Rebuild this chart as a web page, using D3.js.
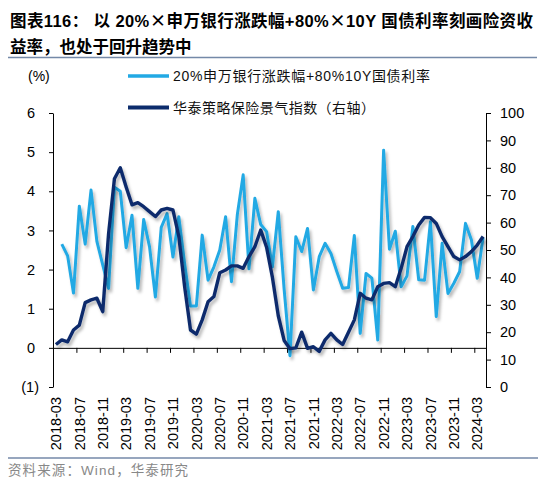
<!DOCTYPE html>
<html><head><meta charset="utf-8">
<script src="https://cdn.jsdelivr.net/npm/d3@7/dist/d3.min.js"></script>
<style>body{margin:0;background:#fff} svg{display:block}</style>
</head><body><svg id="c" width="550" height="486"></svg>
<script>
// ---------- data ----------
const months = [
 "2018-03","2018-04","2018-05","2018-06","2018-07","2018-08","2018-09","2018-10","2018-11","2018-12",
 "2019-01","2019-02","2019-03","2019-04","2019-05","2019-06","2019-07","2019-08","2019-09","2019-10","2019-11","2019-12",
 "2020-01","2020-02","2020-03","2020-04","2020-05","2020-06","2020-07","2020-08","2020-09","2020-10","2020-11","2020-12",
 "2021-01","2021-02","2021-03","2021-04","2021-05","2021-06","2021-07","2021-08","2021-09","2021-10","2021-11","2021-12",
 "2022-01","2022-02","2022-03","2022-04","2022-05","2022-06","2022-07","2022-08","2022-09","2022-10","2022-11","2022-12",
 "2023-01","2023-02","2023-03","2023-04","2023-05","2023-06","2023-07","2023-08","2023-09","2023-10","2023-11","2023-12",
 "2024-01","2024-02","2024-03","2024-04"];
// 20% 申万银行涨跌幅 + 80% 10Y 国债利率 (%), left axis
const rateValues = [
 null,2.65,2.35,1.40,3.62,2.65,4.03,2.72,2.12,1.52,
 4.10,4.00,2.56,3.39,1.52,3.28,2.58,1.30,3.08,3.43,2.32,3.35,
 2.15,1.07,1.07,2.88,1.73,2.07,2.50,3.35,1.69,3.40,4.42,2.02,
 3.82,3.15,2.97,2.07,3.48,1.50,-0.20,2.84,2.46,3.05,1.48,2.33,
 2.67,2.41,1.95,1.52,1.54,2.87,0.37,1.90,1.78,0.20,5.05,2.52,
 2.98,1.56,1.84,3.10,1.74,1.73,3.22,0.80,2.67,1.39,1.65,1.95,
 3.18,2.76,1.78,2.82];
// 华泰策略保险景气指数, right axis
const indexValues = [
 15.5,17.2,16.5,20.8,22.6,30.8,31.8,32.4,27.5,56.0,
 76.0,80.0,73.0,66.5,67.3,65.8,64.0,62.2,64.6,65.2,64.6,55.0,
 36.6,20.8,19.3,24.5,31.1,33.0,41.7,42.7,44.2,44.2,43.3,47.6,
 51.2,57.3,51.0,40.0,26.0,17.0,14.0,14.3,20.0,14.1,14.7,13.0,
 17.2,19.6,17.2,15.5,20.0,24.5,34.2,32.4,31.8,36.6,37.8,38.1,
 36.6,43.3,51.2,54.9,59.1,61.9,61.8,59.7,54.9,51.2,47.6,46.4,
 47.6,49.4,51.8,54.9];
const leftTicks = [-1,0,1,2,3,4,5,6];
const rightTicks = [0,10,20,30,40,50,60,70,80,90,100];
const xTickLabels = ["2018-03","2018-07","2018-11","2019-03","2019-07","2019-11","2020-03","2020-07","2020-11",
 "2021-03","2021-07","2021-11","2022-03","2022-07","2022-11","2023-03","2023-07","2023-11","2024-03"];
const seriesNames = ["20%申万银行涨跌幅+80%10Y国债利率","华泰策略保险景气指数（右轴）"];
const titleLine1Parts = ["图表116：  以 20%","×","申万银行涨跌幅+80%","×","10Y 国债利率刻画险资收"];
const titleLine2 = "益率，也处于回升趋势中";
const sourceText = "资料来源：Wind，华泰研究";

// ---------- drawing ----------
const FONT = "'Liberation Sans', Arial, 'Noto Sans CJK SC', sans-serif";
const CJK = "'Noto Sans CJK SC', sans-serif";
const LIGHT = "#22a9e4", DARK = "#0c2c6c";
const svg = d3.select("#c").style("font-family", FONT);

const defs = svg.append("defs");
const flt = defs.append("filter").attr("id","sh").attr("x","-5%").attr("y","-10%").attr("width","115%").attr("height","130%");
flt.append("feDropShadow").attr("dx",2).attr("dy",3).attr("stdDeviation",1.6)
   .attr("flood-color","#000").attr("flood-opacity",0.28);

const x = d3.scaleBand().domain(months).range([53,486]).padding(0);
const xb = d3.scaleLinear().domain([0, months.length]).range([53,486]);
const yL = d3.scaleLinear().domain([-1,6]).range([387,113]);
const yR = d3.scaleLinear().domain([0,100]).range([387,113]);
const cx = i => x(months[i]) + x.bandwidth()/2;

// title
const t1 = svg.append("text").attr("x",10).attr("y",26.5).attr("font-size",16.5).attr("font-weight","bold")
   .attr("textLength",523).attr("lengthAdjust","spacing").attr("fill","#000");
titleLine1Parts.forEach(p => {
  const ts = t1.append("tspan").text(p);
  if (p === "×") ts.attr("font-family", CJK);
});
svg.append("text").attr("x",10).attr("y",52.5).attr("font-size",16.5).attr("font-weight","bold")
   .attr("fill","#000").text(titleLine2);
svg.append("line").attr("x1",8).attr("x2",537).attr("y1",57.5).attr("y2",57.5)
   .attr("stroke","#7489a8").attr("stroke-width",1.6);

// unit
svg.append("text").attr("x",28).attr("y",81).attr("font-size",14).attr("fill","#000").text("(%)");

// legend
const leg = [{y:76, c:LIGHT, w:3.5, t:seriesNames[0], len:257},{y:107.5, c:DARK, w:4, t:seriesNames[1], len:202}];
leg.forEach(l=>{
  svg.append("line").attr("x1",128).attr("x2",169).attr("y1",l.y).attr("y2",l.y)
     .attr("stroke",l.c).attr("stroke-width",l.w);
  svg.append("text").attr("x",173).attr("y",l.y+5).attr("font-size",14)
     .attr("textLength",l.len).attr("lengthAdjust","spacing").attr("fill","#111").text(l.t);
});

// left axis
const gL = svg.append("g").attr("transform","translate(53,0)")
  .call(d3.axisLeft(yL).tickValues(leftTicks).tickSize(4).tickSizeOuter(0)
        .tickFormat(d => d < 0 ? "(" + (-d) + ")" : String(d)));
gL.selectAll("text").attr("font-size",14.5).attr("font-family",FONT).attr("fill","#000")
  .attr("x", d => d < 0 ? -14 : -18);
gL.selectAll("line,path").attr("stroke","#000");

// right axis
const gR = svg.append("g").attr("transform","translate(486,0)")
  .call(d3.axisRight(yR).tickValues(rightTicks).tickSize(5).tickSizeOuter(0).tickPadding(9));
gR.selectAll("text").attr("font-size",14.5).attr("font-family",FONT).attr("fill","#000");
gR.selectAll("line,path").attr("stroke","#000");

// x axis (at zero of left axis), ticks at category boundaries
const gX = svg.append("g").attr("transform",`translate(0,${yL(0)})`)
  .call(d3.axisBottom(xb).tickValues(d3.range(0, months.length, 4)).tickSize(5).tickSizeOuter(0).tickFormat(""));
gX.selectAll("line,path").attr("stroke","#000");

// x labels at bottom
const gXL = svg.append("g").attr("transform","translate(0,387)")
  .call(d3.axisBottom(x).tickValues(xTickLabels).tickSize(0));
gXL.select(".domain").remove();
gXL.selectAll("text").attr("font-size",14.5).attr("font-family",FONT).attr("fill","#000")
  .attr("transform","rotate(-90)").attr("text-anchor","end")
  .attr("x",-10).attr("y",0).attr("dy","0.36em");

// lines
const lineL = d3.line().defined(d => d != null).x((d,i)=>cx(i)).y(d=>yL(d));
const lineR = d3.line().defined(d => d != null).x((d,i)=>cx(i)).y(d=>yR(d));
svg.append("path").datum(rateValues).attr("d",lineL).attr("fill","none")
   .attr("stroke",LIGHT).attr("stroke-width",3).attr("stroke-linejoin","round").attr("filter","url(#sh)");
svg.append("path").datum(indexValues).attr("d",lineR).attr("fill","none")
   .attr("stroke",DARK).attr("stroke-width",3.4).attr("stroke-linejoin","round").attr("filter","url(#sh)");

// bottom rule & source
svg.append("line").attr("x1",8).attr("x2",538).attr("y1",458).attr("y2",458)
   .attr("stroke","#7489a8").attr("stroke-width",1.6);
svg.append("text").attr("x",8).attr("y",475).attr("font-size",13.5).attr("fill","#888")
   .attr("textLength",180).attr("lengthAdjust","spacing").text(sourceText);
</script></body></html>
